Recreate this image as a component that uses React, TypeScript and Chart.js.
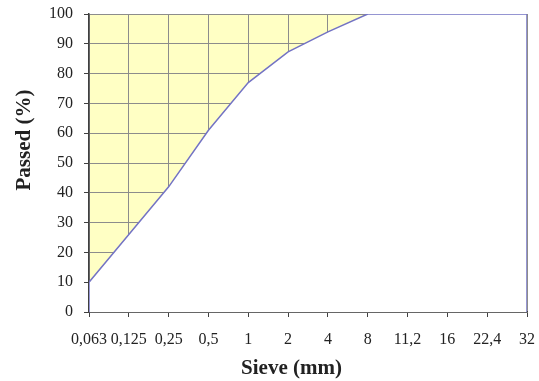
import React, { useEffect, useRef } from "react";
import { Chart, registerables } from "chart.js";

Chart.register(...registerables);

const sieveLabels = ["0,063", "0,125", "0,25", "0,5", "1", "2", "4", "8", "11,2", "16", "22,4", "32"];
const passed = [10, 26, 42, 61, 77, 87.3, 94, 100, 100, 100, 100, 100];
const yTicks = [0, 10, 20, 30, 40, 50, 60, 70, 80, 90, 100];
const xTitle = "Sieve (mm)";
const yTitle = "Passed (%)";

const W = 539;
const H = 381;
const FONT = "'Liberation Serif', 'Times New Roman', serif";
const TEXT = "#222222";

const bgPlugin = {
  id: "plotBg",
  beforeDraw(chart: any) {
    const { ctx, chartArea } = chart;
    ctx.save();
    ctx.fillStyle = "#FFFFC4";
    ctx.fillRect(chartArea.left, chartArea.top, chartArea.right - chartArea.left, chartArea.bottom - chartArea.top);
    ctx.restore();
  },
};

const titlePlugin = {
  id: "axisTitles",
  afterDraw(chart: any) {
    const { ctx } = chart;
    ctx.save();
    ctx.fillStyle = TEXT;
    ctx.font = `bold 21px ${FONT}`;
    ctx.textAlign = "center";
    ctx.textBaseline = "middle";
    ctx.fillText(xTitle, 291.5, 369);
    ctx.translate(25, 140);
    ctx.rotate(-Math.PI / 2);
    ctx.fillText(yTitle, 0, 0);
    ctx.restore();
  },
};

export default function App() {
  const ref = useRef<HTMLCanvasElement | null>(null);

  useEffect(() => {
    if (!ref.current) return;
    const last = sieveLabels.length - 1;
    const points = [
      { x: 0, y: 0 },
      ...passed.map((v, i) => ({ x: i, y: v })),
      { x: last, y: 0 },
    ];
    const chart = new Chart(ref.current, {
      type: "line",
      data: {
        datasets: [
          {
            data: points,
            borderColor: "#7373C4",
            borderWidth: 1.5,
            backgroundColor: "#FFFFFF",
            fill: "origin",
            pointRadius: 0,
            tension: 0,
          },
        ],
      },
      options: {
        animation: false,
        responsive: false,
        devicePixelRatio: 1,
        layout: { padding: { top: 14, right: 12, left: 0, bottom: 0 } },
        plugins: {
          legend: { display: false },
          tooltip: { enabled: false },
        },
        scales: {
          x: {
            type: "linear",
            min: 0,
            max: last,
            afterBuildTicks: (scale: any) => {
              scale.ticks = sieveLabels.map((_, i) => ({ value: i }));
            },
            afterFit: (scale: any) => {
              scale.height = H - 312;
              scale.paddingLeft = 0;
              scale.paddingRight = 0;
            },
            ticks: {
              autoSkip: false,
              maxRotation: 0,
              padding: 13,
              color: TEXT,
              font: { family: FONT, size: 16 },
              callback: (v: any) => sieveLabels[Number(v)] ?? "",
            },
            grid: {
              color: "#8c8c8c",
              lineWidth: 1,
              tickLength: 5,
              tickColor: "#404040",
            },
            border: { color: "#404040", width: 1.5 },
          },
          y: {
            min: 0,
            max: 100,
            afterBuildTicks: (scale: any) => {
              scale.ticks = yTicks.map((v) => ({ value: v }));
            },
            afterFit: (scale: any) => {
              scale.width = 89;
              scale.paddingTop = 0;
              scale.paddingBottom = 0;
            },
            ticks: {
              padding: 11,
              color: TEXT,
              font: { family: FONT, size: 16 },
            },
            grid: {
              color: "#8c8c8c",
              lineWidth: 1,
              tickLength: 5,
              tickColor: "#404040",
            },
            border: { color: "#404040", width: 1.5 },
          },
        },
      },
      plugins: [bgPlugin, titlePlugin],
    } as any);
    return () => chart.destroy();
  }, []);

  return (
    <div style={{ position: "absolute", left: 0, top: 0, width: W, height: H, background: "#fff" }}>
      <canvas ref={ref} width={W} height={H} style={{ width: W, height: H, display: "block" }} />
    </div>
  );
}
